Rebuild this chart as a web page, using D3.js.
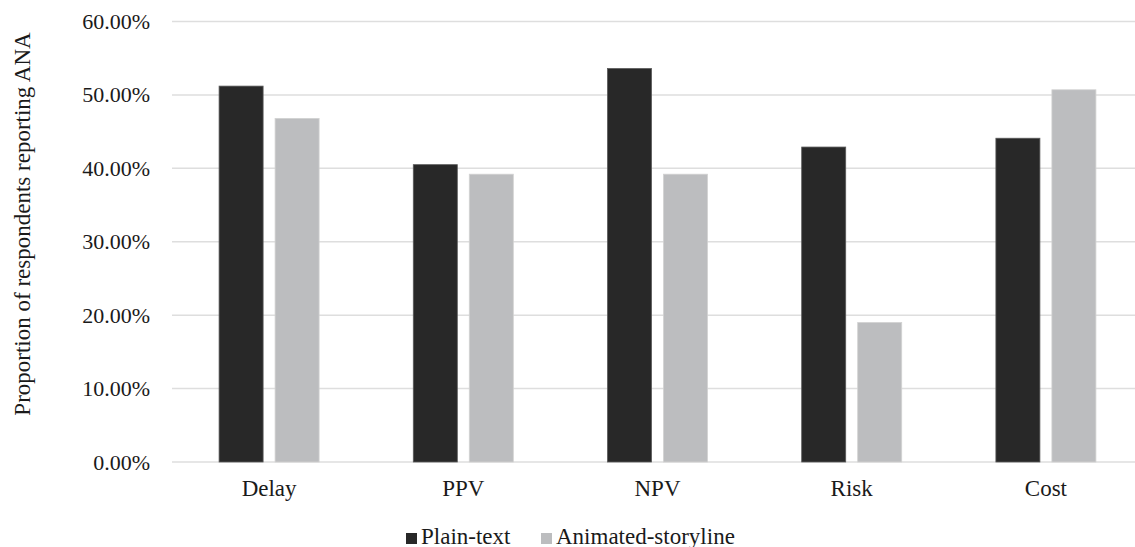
<!DOCTYPE html>
<html>
<head>
<meta charset="utf-8">
<script src="https://cdn.jsdelivr.net/npm/d3@7"></script>
<style>
  body { margin: 0; background: #fff; }
  svg { display: block; font-family: "Liberation Serif", "Times New Roman", serif; }
</style>
</head>
<body>
<div id="chart"></div>
<script>
var width = 1135;
var height = 547;

// data
let categories = ["Delay", "PPV", "NPV", "Risk", "Cost"];
let seriesNames = ["Plain-text", "Animated-storyline"];
let plainText = [0.512, 0.405, 0.536, 0.429, 0.441];
let animated = [0.468, 0.392, 0.392, 0.190, 0.507];
let yTicks = [0, 0.1, 0.2, 0.3, 0.4, 0.5, 0.6];

let colors = {"Plain-text": "#282828", "Animated-storyline": "#bcbdbf"};
let strokes = {"Plain-text": "#5a5a5a", "Animated-storyline": "#d2d2d2"};

let rows = categories.map((c, i) => ({cat: c, values: [
    {name: seriesNames[0], v: plainText[i]},
    {name: seriesNames[1], v: animated[i]}
]}));

var svg = d3.select("#chart").append("svg")
    .attr("width", width).attr("height", height);

let x0 = d3.scaleBand().domain(categories).range([172, 1143])
    .paddingInner(0.485).paddingOuter(0.2425);
let x1 = d3.scaleBand().domain(seriesNames).range([0, x0.bandwidth()])
    .paddingInner(0.214);
let y = d3.scaleLinear().domain([0, 0.6]).range([462, 21.5]);

// gridlines
svg.append("g").selectAll("line").data(yTicks)
    .join("line")
    .attr("x1", 172).attr("x2", 1143)
    .attr("y1", d => y(d)).attr("y2", d => y(d))
    .attr("stroke", "#dedede").attr("stroke-width", 1.5);

// y axis labels
let yAxis = d3.axisLeft(y).tickValues(yTicks).tickFormat(d => (d * 100).toFixed(2) + "%")
    .tickSize(0).tickPadding(22);
let gy = svg.append("g").attr("transform", "translate(172,0)").call(yAxis);
gy.select(".domain").remove();
gy.selectAll("text").attr("font-size", 22).attr("fill", "#1a1a1a")
    .attr("font-family", "Liberation Serif");

// bars
svg.append("g").selectAll("g").data(rows)
    .join("g")
    .attr("transform", d => `translate(${x0(d.cat)},0)`)
    .selectAll("rect").data(d => d.values)
    .join("rect")
    .attr("x", d => x1(d.name))
    .attr("y", d => y(d.v))
    .attr("width", x1.bandwidth())
    .attr("height", d => y(0) - y(d.v))
    .attr("fill", d => colors[d.name])
    .attr("stroke", d => strokes[d.name])
    .attr("stroke-width", 0.8);

// x axis labels
let xAxis = d3.axisBottom(x0).tickSize(0).tickPadding(18);
let gx = svg.append("g").attr("transform", "translate(0,462)").call(xAxis);
gx.select(".domain").remove();
gx.selectAll("text").attr("font-size", 23).attr("fill", "#1a1a1a")
    .attr("font-family", "Liberation Serif");

// axis title
svg.append("text")
    .attr("transform", "translate(30,224) rotate(-90)")
    .attr("text-anchor", "middle")
    .attr("font-size", 23)
    .attr("fill", "#1a1a1a")
    .text("Proportion of respondents reporting ANA");

// legend
let legendX = [406, 541];
let legend = svg.append("g").selectAll("g").data(seriesNames)
    .join("g")
    .attr("transform", (d, i) => `translate(${legendX[i]},533)`);
legend.append("rect")
    .attr("width", 11).attr("height", 11)
    .attr("fill", d => colors[d]);
legend.append("text")
    .attr("x", 15).attr("y", 10.5)
    .attr("font-size", 23).attr("fill", "#1a1a1a")
    .text(d => d);
</script>
</body>
</html>
